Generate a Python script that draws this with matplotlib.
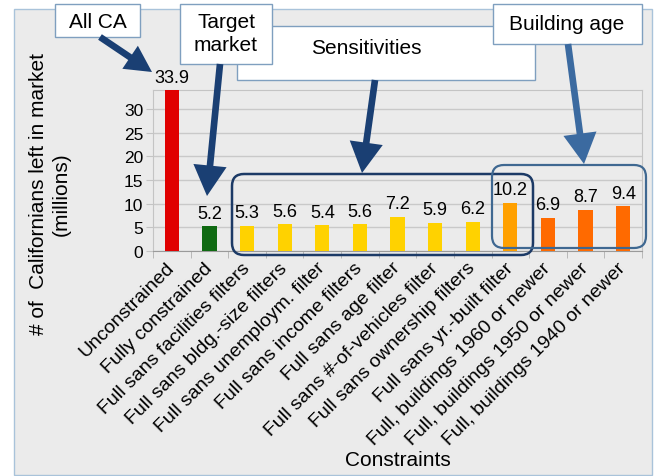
import matplotlib
matplotlib.use("Agg")
import matplotlib.pyplot as plt
from matplotlib.patches import Rectangle, FancyBboxPatch, FancyArrowPatch, ArrowStyle

plt.rcParams["font.family"] = ["Liberation Sans", "DejaVu Sans"]

# ---- data -------------------------------------------------------------
categories = [
    "Unconstrained",
    "Fully constrained",
    "Full sans facilities filters",
    "Full sans bldg.-size filters",
    "Full sans unemploym. filter",
    "Full sans income filters",
    "Full sans age filter",
    "Full sans #-of-vehicles filter",
    "Full sans ownership filters",
    "Full sans yr.-built filter",
    "Full, buildings 1960 or newer",
    "Full, buildings 1950 or newer",
    "Full, buildings 1940 or newer",
]
values = [33.9, 5.2, 5.3, 5.6, 5.4, 5.6, 7.2, 5.9, 6.2, 10.2, 6.9, 8.7, 9.4]
bar_colors = ["#e00000", "#0f6a12"] + ["#ffd200"] * 7 + ["#ffa000"] + ["#ff6a00"] * 3
y_ticks = [0, 5, 10, 15, 20, 25, 30]

W, H = 655, 477
fig = plt.figure(figsize=(W / 100, H / 100), dpi=100)
fig.patch.set_facecolor("white")

# ---- background panel ------------------------------------------------
bg = fig.add_axes([0, 0, 1, 1], zorder=0)
bg.set_xlim(0, W)
bg.set_ylim(H, 0)
bg.set_axis_off()
bg.add_patch(Rectangle((14, 10), 638, 466, facecolor="#ebebeb",
                       edgecolor="#a9c3da", linewidth=1))

# ---- bar chart ---------------------------------------------------------
ax = fig.add_axes([153 / W, 1 - 252 / H, (642 - 153) / W, (252 - 91) / H], zorder=1)
ax.patch.set_facecolor("none")
x = list(range(len(categories)))
ax.bar(x, values, width=0.38, color=bar_colors, zorder=3)
ax.set_xlim(-0.5, len(categories) - 0.5)
ax.set_ylim(0, 34)
ax.set_yticks(y_ticks)
ax.yaxis.grid(True, color="#c9c9c9", linewidth=1)
ax.set_axisbelow(True)
for s in ["left", "top", "right"]:
    ax.spines[s].set_color("#c4c4c4")
ax.spines["bottom"].set_color("#9a9a9a")
ax.tick_params(axis="y", length=5, color="#c4c4c4", labelsize=12.5, pad=2)
ax.set_xticks(x)
ax.set_xticklabels(categories, rotation=45, ha="right", va="center",
                   rotation_mode="anchor", fontsize=14)
ax.tick_params(axis="x", which="major", length=0, pad=10)
ax.set_xticks([i - 0.5 for i in range(len(categories) + 1)], minor=True)
ax.tick_params(axis="x", which="minor", length=5, color="#b0b0b0")

for i, v in enumerate(values):
    ax.annotate(f"{v:.1f}", (i, v), xytext=(0, 3.5), textcoords="offset points",
                ha="center", va="bottom", fontsize=13, zorder=4)

fig.text(50 / W, 1 - 194 / H, "# of  Californians left in market\n(millions)",
         rotation=90, ha="center", va="center", multialignment="center",
         fontsize=15, linespacing=1.2)
fig.text(398 / W, 1 - 461 / H, "Constraints", ha="center", va="center", fontsize=15)

# ---- callouts ----------------------------------------------------------
fg = fig.add_axes([0, 0, 1, 1], zorder=2)
fg.set_xlim(0, W)
fg.set_ylim(H, 0)
fg.set_axis_off()
fg.patch.set_visible(False)

box_kw = dict(facecolor="white", edgecolor="#7f9fbf", linewidth=1)
fg.add_patch(Rectangle((237, 27), 298, 54, **box_kw))
fg.add_patch(Rectangle((55, 5), 85, 33, **box_kw))
fg.add_patch(Rectangle((180, 5), 92, 60, **box_kw))
fg.add_patch(Rectangle((493, 5), 149, 40, **box_kw))

fg.text(97.5, 22, "All CA", ha="center", va="center", fontsize=15)
fg.text(226, 34, "Target\nmarket", ha="center", va="center", fontsize=15,
        linespacing=1.25)
fg.text(366, 48, "Sensitivities", ha="center", va="center", fontsize=15)
fg.text(567, 24, "Building age", ha="center", va="center", fontsize=15)

# group outlines
fg.add_patch(FancyBboxPatch((232, 175), 301, 81,
                            boxstyle="round,pad=0,rounding_size=12",
                            facecolor="none", edgecolor="#1c3a66", linewidth=1.8))
fg.add_patch(FancyBboxPatch((492, 166), 154, 83,
                            boxstyle="round,pad=0,rounding_size=12",
                            facecolor="none", edgecolor="#3f6891", linewidth=1.6))


def arrow(p0, p1, color, head_len, head_w, tail_w=4.8):
    style = ArrowStyle.Simple(head_length=head_len, head_width=head_w,
                              tail_width=tail_w)
    fg.add_patch(FancyArrowPatch(p0, p1, arrowstyle=style, color=color,
                                 linewidth=0, shrinkA=0, shrinkB=0))


navy = "#1a3f73"
arrow((100, 38), (152, 73), navy, 19, 20)
arrow((220, 65), (207, 197), navy, 22, 24)
arrow((375, 81), (362, 174), navy, 22, 24)
arrow((568, 45), (584, 165), "#3b6aa0", 22, 24)

fig.savefig("out.png", dpi=100, facecolor=fig.get_facecolor())
